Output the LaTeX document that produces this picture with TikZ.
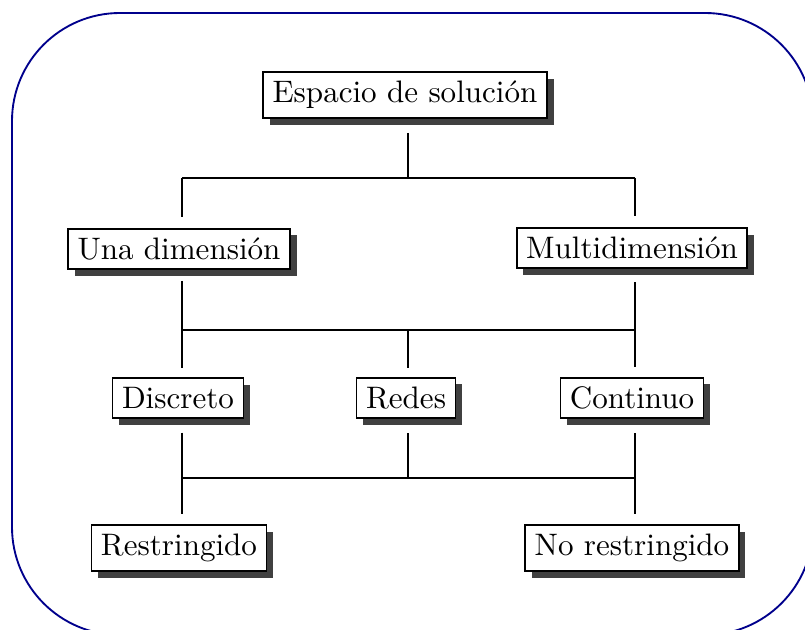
\documentclass[tikz,border=0pt]{standalone}
\usepackage{graphicx}
\usetikzlibrary{shadows}
\definecolor{frameblue}{rgb}{0,0,0.55}
\newcommand{\bigtxt}[1]{\scalebox{2.33}{#1}}
\begin{document}
\begin{tikzpicture}[x=0.75pt,y=-0.75pt,
  box/.style={draw=black, line width=1.3pt, fill=white, inner xsep=7.1pt, inner ysep=6.8pt,
    font=\normalsize,
    drop shadow={shadow xshift=5pt, shadow yshift=-5pt, fill=black!75, opacity=1}},
  conn/.style={line width=1.4pt}]
\useasboundingbox (0,0) rectangle (805,630);
\begin{scope}
  \clip (0,0) rectangle (805,630);
  \draw[frameblue, line width=1.4pt, rounded corners=81pt] (12,13) rectangle (813,635);
\end{scope}

\node[box] (esp) at (405,95) {\bigtxt{Espacio de solución}};
\node[box] (una) at (179,249) {\bigtxt{Una dimensión}};
\node[box] (multi) at (632,248) {\bigtxt{Multidimensión}};
\node[box] (disc) at (178,398) {\bigtxt{Discreto}};
\node[box] (redes) at (406,398) {\bigtxt{Redes}};
\node[box] (cont) at (632,398) {\bigtxt{Continuo}};
\node[box] (rest) at (179,548) {\bigtxt{Restringido}};
\node[box] (norest) at (632,548) {\bigtxt{No restringido}};

\coordinate (a1) at (182,178);
\coordinate (a2) at (408,178);
\coordinate (a3) at (635,178);
\coordinate (b1) at (182,330);
\coordinate (b2) at (408,330);
\coordinate (b3) at (635,330);
\coordinate (c1) at (182,478);
\coordinate (c2) at (408,478);
\coordinate (c3) at (635,478);

% level 1
\draw[conn] ([xshift=2.25pt,yshift=-10.5pt]esp.south) |- (a2);
\draw[conn] (a1) -- (a3);
\draw[conn] (a1) -- ([xshift=2.25pt,yshift=8pt]una.north);
\draw[conn] (a3) -- ([xshift=2.25pt,yshift=8pt]multi.north);
% level 2
\draw[conn] ([xshift=2.25pt,yshift=-8pt]una.south) -- (b1);
\draw[conn] ([xshift=2.25pt,yshift=-10pt]multi.south) -- (b3);
\draw[conn] (b1) -- (b3);
\draw[conn] (b1) -- ([xshift=3pt,yshift=7pt]disc.north);
\draw[conn] (b2) -- ([xshift=1.5pt,yshift=7pt]redes.north);
\draw[conn] (b3) -- ([xshift=2.25pt,yshift=7pt]cont.north);
% level 3
\draw[conn] ([xshift=3pt,yshift=-10.5pt]disc.south) -- (c1);
\draw[conn] ([xshift=1.5pt,yshift=-10.5pt]redes.south) -- (c2);
\draw[conn] ([xshift=2.25pt,yshift=-10.5pt]cont.south) -- (c3);
\draw[conn] (c1) -- (c3);
\draw[conn] (c1) -- ([xshift=2.25pt,yshift=7.5pt]rest.north);
\draw[conn] (c3) -- ([xshift=2.25pt,yshift=7.5pt]norest.north);
\end{tikzpicture}
\end{document}
